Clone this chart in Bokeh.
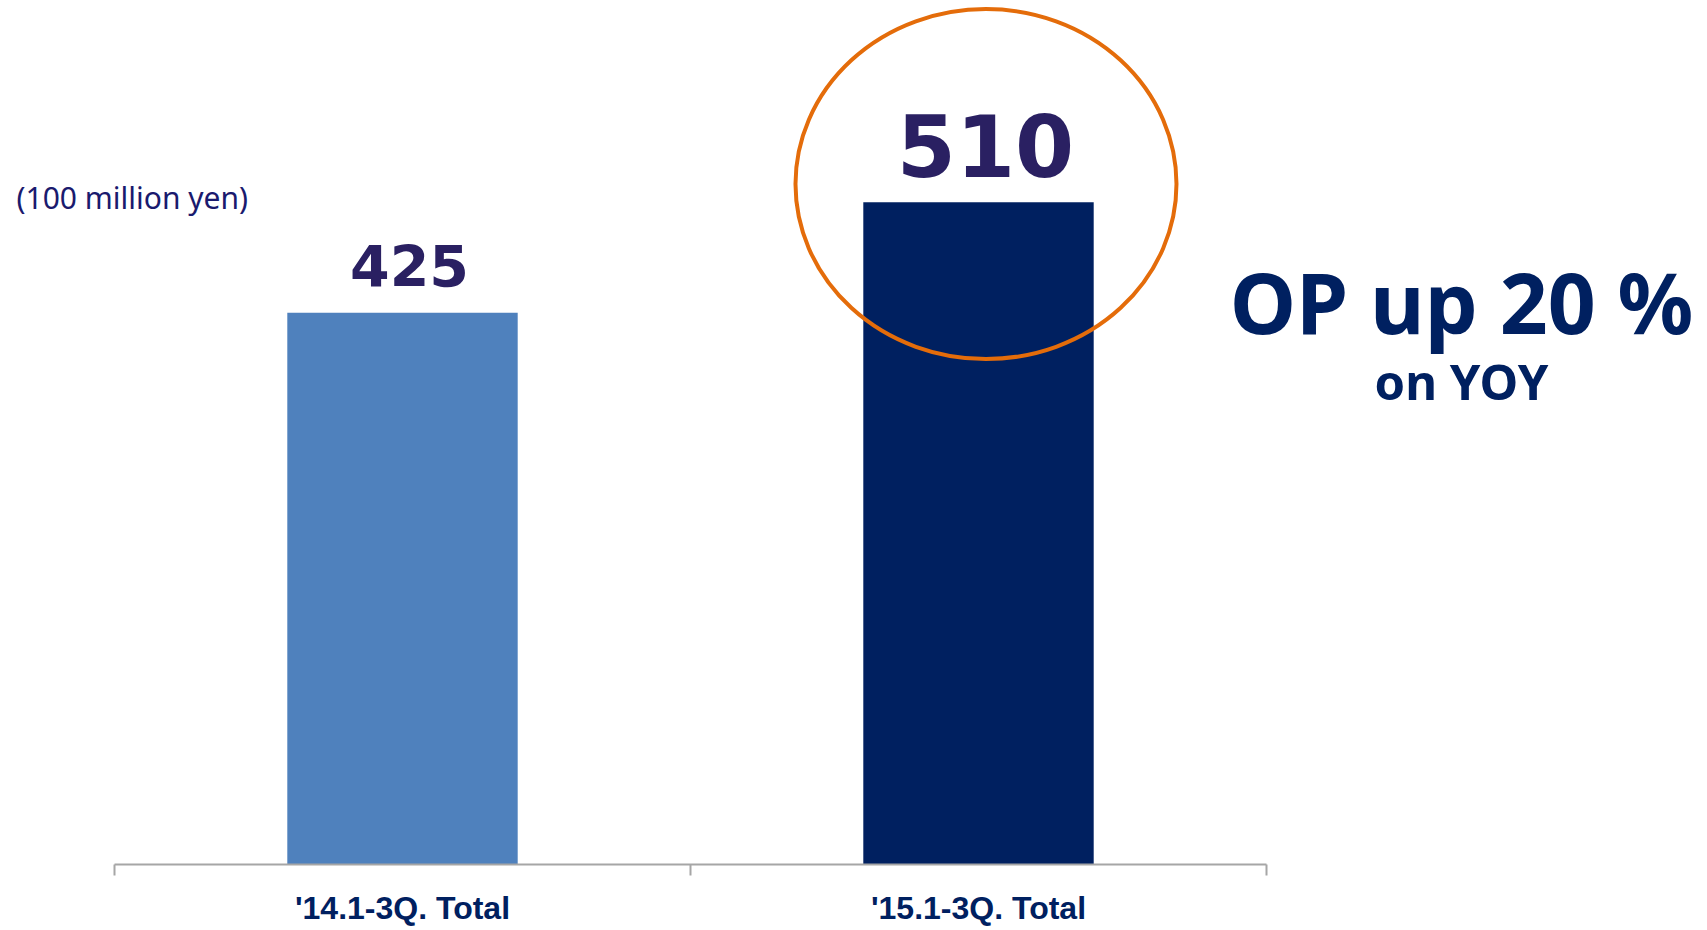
from bokeh.plotting import figure
from bokeh.models import Range1d, FixedTicker, Label, ColumnDataSource
from bokeh.core.properties import value
from bokeh.embed import file_html
from bokeh.resources import INLINE

# ---- data ----
categories = ["'14.1-3Q. Total", "'15.1-3Q. Total"]
values = [425, 510]
value_labels = ["425", "510"]
unit_label = "(100 million yen)"
headline = "OP up 20 %"
subline = "on YOY"
highlight_index = 1

# ---- styles ----
bar_colors = ["#4F81BD", "#002060"]
value_label_sizes = [57, 85]
NAVY = "#002060"
BASE_SHIFT = 0.36  # svg baseline compensation (fraction of font size)

positions = [i + 0.5 for i in range(len(categories))]

W, H = 1700, 928
FRAME_H = 865
PX_PER_CAT = 576.0
LEFT_PAD = 114.0
PX_PER_UNIT = 1.3

x0 = -LEFT_PAD / PX_PER_CAT
p = figure(width=W, height=H, output_backend="svg", toolbar_location=None,
           x_range=Range1d(x0, x0 + W / PX_PER_CAT),
           y_range=Range1d(0, FRAME_H / PX_PER_UNIT),
           y_axis_location=None,
           min_border_left=0, min_border_right=0,
           min_border_top=0, min_border_bottom=H - FRAME_H)
p.outline_line_color = None
p.grid.visible = False
p.background_fill_color = "white"
p.border_fill_color = "white"

ax = p.xaxis[0]
ax.bounds = (0, len(categories))
ax.ticker = FixedTicker(ticks=positions, minor_ticks=list(range(len(categories) + 1)))
ax.major_label_overrides = {pos: cat for pos, cat in zip(positions, categories)}
ax.major_tick_line_color = None
ax.major_tick_out = 0
ax.major_tick_in = 0
ax.minor_tick_line_color = "#a6a6a6"
ax.minor_tick_line_width = 2
ax.minor_tick_out = 11
ax.minor_tick_in = 0
ax.axis_line_color = "#a6a6a6"
ax.axis_line_width = 2
ax.major_label_text_font = "Liberation Sans"
ax.major_label_text_font_style = "bold"
ax.major_label_text_font_size = "32px"
ax.major_label_text_color = NAVY
ax.major_label_standoff = 14

p.vbar(x=positions, top=values, width=0.4, fill_color=bar_colors, line_color=None)

src = ColumnDataSource(dict(
    x=positions, y=values, text=value_labels,
    size=[f"{s}px" for s in value_label_sizes],
    yoff=[-(26 + BASE_SHIFT * s) for s in value_label_sizes]))
p.text(x="x", y="y", text="text", source=src, text_font=value("DejaVu Sans"),
       text_font_style="bold", text_font_size="size", text_align="center",
       text_baseline="alphabetic", x_offset=7, y_offset="yoff", text_color="#2a2062")

p.ellipse(x=[positions[highlight_index] + 0.013], y=[values[highlight_index] + 14],
          width=381, height=350, width_units="screen", height_units="screen",
          fill_color=None, line_color="#E46C0A", line_width=4)


def add_text(text, x, baseline_y, size, bold=False, align="left"):
    p.add_layout(Label(x=x, y=FRAME_H - baseline_y + BASE_SHIFT * size,
                       x_units="screen", y_units="screen", text=text,
                       text_font="Noto Sans", text_font_style="bold" if bold else "normal",
                       text_font_size=f"{size}px", text_color=NAVY if bold else "#1a1a6e",
                       text_align=align, text_baseline="alphabetic"))


add_text(unit_label, 16, 209, 30)
add_text(headline, 1461, 332, 84, bold=True, align="center")
add_text(subline, 1461, 399, 49, bold=True, align="center")

open("out.html", "w").write(file_html(p, INLINE))
